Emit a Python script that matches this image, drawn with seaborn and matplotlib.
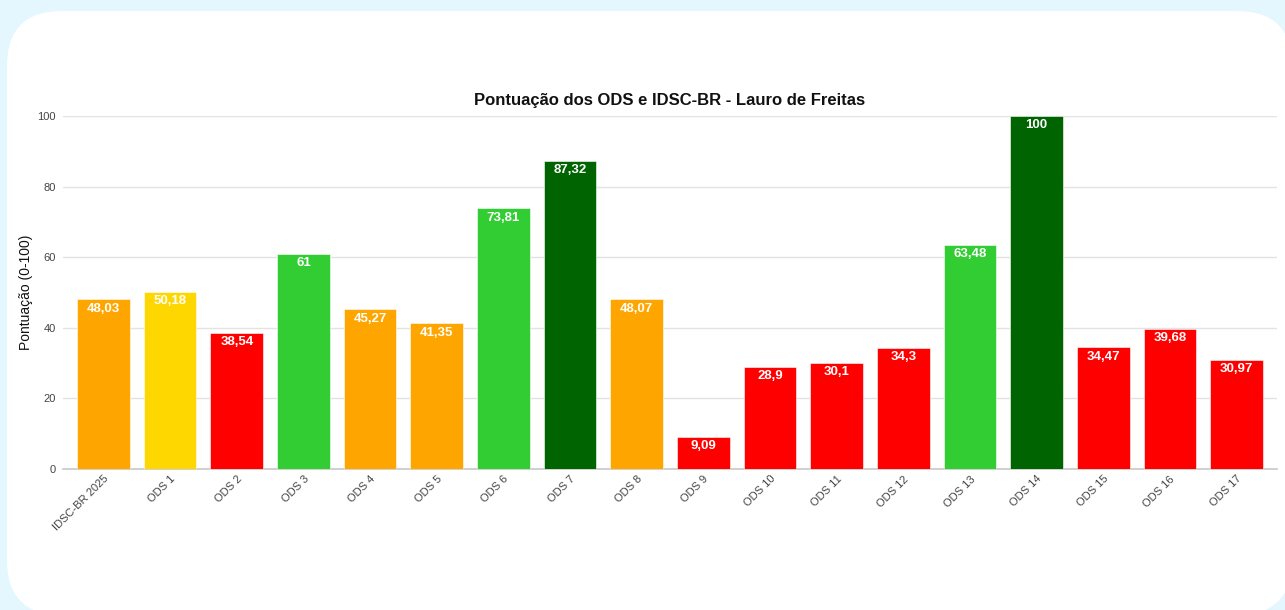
import numpy as np
import pandas as pd
import matplotlib
matplotlib.use("Agg")
import matplotlib.pyplot as plt
from matplotlib.patches import FancyBboxPatch
import seaborn as sns

categories = ["IDSC-BR 2025", "ODS 1", "ODS 2", "ODS 3", "ODS 4", "ODS 5", "ODS 6",
              "ODS 7", "ODS 8", "ODS 9", "ODS 10", "ODS 11", "ODS 12", "ODS 13",
              "ODS 14", "ODS 15", "ODS 16", "ODS 17"]
scores = [48.03, 50.18, 38.54, 61, 45.27, 41.35, 73.81, 87.32, 48.07, 9.09,
          28.9, 30.1, 34.3, 63.48, 100, 34.47, 39.68, 30.97]
bar_colors = ["#FFA500", "#FFD700", "#FF0000", "#32CD32", "#FFA500", "#FFA500",
              "#32CD32", "#006400", "#FFA500", "#FF0000", "#FF0000", "#FF0000",
              "#FF0000", "#32CD32", "#006400", "#FF0000", "#FF0000", "#FF0000"]

df = pd.DataFrame({"cat": categories, "score": scores})

sns.set_style("white")
plt.rcParams["font.family"] = ["Liberation Sans", "DejaVu Sans"]

fig = plt.figure(figsize=(12.85, 6.10), dpi=100)
fig.patch.set_facecolor("#e4f7fe")

# white rounded card behind the chart
card = FancyBboxPatch((0.07, -0.05), 12.85, 6.04,
                      boxstyle="round,pad=0,rounding_size=0.55",
                      transform=fig.dpi_scale_trans,
                      facecolor="white", edgecolor="none", zorder=0)
fig.add_artist(card)

ax = fig.add_axes([63 / 1285, 141 / 610, 1214 / 1285, 353 / 610])
ax.set_facecolor("none")

sns.barplot(data=df, x="cat", y="score", hue="cat", palette=bar_colors,
            legend=False, width=0.79, saturation=1, ax=ax,
            edgecolor="#ffffff", linewidth=0.4, zorder=3)

for i, v in enumerate(scores):
    label = f"{v:g}".replace(".", ",")
    ax.annotate(label, (i, v), xytext=(0, -2.5), textcoords="offset points",
                ha="center", va="top", color="white", fontsize=9.5,
                fontweight="bold", zorder=4)

ax.set_ylim(0, 100)
ax.set_xlim(-0.608, len(categories) - 1 + 0.608)
ax.set_yticks([0, 20, 40, 60, 80, 100])
ax.yaxis.grid(True, color="#e3e3e3", linewidth=1, zorder=0)
ax.set_axisbelow(True)
for side in ["top", "right", "left"]:
    ax.spines[side].set_visible(False)
ax.spines["bottom"].set_color("#c8c8c8")
ax.spines["bottom"].set_linewidth(1.2)

ax.tick_params(axis="both", length=0, labelsize=8, labelcolor="#444444")
ax.tick_params(axis="y", pad=5)
plt.setp(ax.get_xticklabels(), rotation=45, ha="right", rotation_mode="anchor")

ax.set_xlabel("")
ax.set_ylabel("Pontuação (0-100)", fontsize=10, color="#111111", labelpad=3)

fig.text(670 / 1285, 1 - 100 / 610, "Pontuação dos ODS e IDSC-BR - Lauro de Freitas",
         ha="center", va="center", fontsize=12, fontweight="bold", color="#111111")

fig.savefig("out.png", dpi=100)
